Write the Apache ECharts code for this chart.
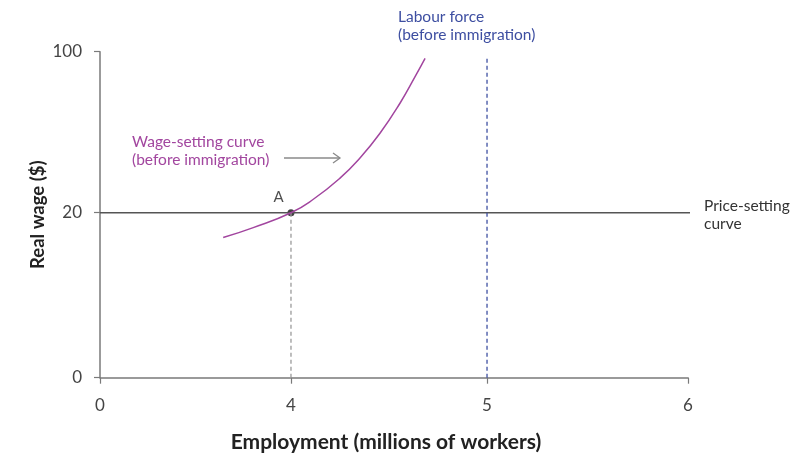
<!DOCTYPE html>
<html>
<head>
<meta charset="utf-8">
<script src="https://cdn.jsdelivr.net/npm/echarts@6/dist/echarts.min.js"></script>
<style>html,body{margin:0;padding:0;background:#fff}#c{width:810px;height:463px}</style>
</head>
<body>
<div id="c"></div>
<script>
// ---- data ----
const xTickValues = [0, 4, 5, 6];          // employment (millions)
const yTickValues = [0, 20, 100];          // real wage ($)
const wageX = [2.58, 3.21, 4.00, 4.114, 4.25, 4.352, 4.454, 4.556, 4.633, 4.684];
const wageY = [17.0, 18.2, 20.0, 26.7, 37.2, 47.2, 59.5, 74.4, 87.6, 96.7];
const priceSetting = 20;        // price-setting real wage
const pointA = [4, 20];
const labourForce = 5;          // labour force before immigration
const labourTop = 97.4;
const priceEnd = 6.02;

// ---- broken (piecewise) axis scales ----
const xScalePos = [0, 0.3248, 0.6582, 1];
const yScalePos = [0, 0.506, 1];
function piece(v, vals, pos) {
  let i = 0;
  while (i < vals.length - 2 && v > vals[i + 1]) i++;
  const t = (v - vals[i]) / (vals[i + 1] - vals[i]);
  return pos[i] + t * (pos[i + 1] - pos[i]);
}
const X = v => piece(v, xTickValues, xScalePos);
const Y = v => piece(v, yTickValues, yScalePos);
const P = (x, y) => [X(x), Y(y)];
function labelFor(val, vals, pos) {
  for (let i = 0; i < pos.length; i++) if (Math.abs(pos[i] - val) < 1e-6) return String(vals[i]);
  return '';
}

const FONT = 'Lato, "Open Sans", sans-serif';
const PURPLE = '#a2469f';
const BLUE = '#3d4ea1';
const AXIS = '#7a7a7a';

const chart = echarts.init(document.getElementById('c'), null, {renderer: 'canvas'});
chart.setOption({
  animation: false,
  grid: {left: 100, right: 122, top: 51.7, bottom: 85.3, containLabel: false},
  xAxis: {
    type: 'value', min: 0, max: 1,
    name: 'Employment (millions of workers)', nameLocation: 'middle', nameGap: 54,
    nameTextStyle: {fontFamily: FONT, fontWeight: 'bold', fontSize: 21, color: '#222', padding: [0, 16, 0, 0]},
    axisLine: {lineStyle: {color: AXIS, width: 1.5}},
    axisTick: {show: true, length: 6, customValues: xScalePos, lineStyle: {color: AXIS, width: 1.2}},
    axisLabel: {customValues: xScalePos, margin: 19, fontFamily: FONT, fontSize: 17, color: '#444',
      formatter: v => labelFor(v, xTickValues, xScalePos)},
    splitLine: {show: false}
  },
  yAxis: {
    type: 'value', min: 0, max: 1,
    name: 'Real wage ($)', nameLocation: 'middle', nameGap: 52, nameRotate: 90, nameMoveOverlap: false,
    nameTextStyle: {fontFamily: FONT, fontWeight: 'bold', fontSize: 18.5, color: '#222'},
    axisLine: {show: true, lineStyle: {color: AXIS, width: 1.5}},
    axisTick: {show: true, length: 6, customValues: yScalePos, lineStyle: {color: AXIS, width: 1.2}},
    axisLabel: {customValues: yScalePos, margin: 18, fontFamily: FONT, fontSize: 17, color: '#444',
      formatter: v => labelFor(v, yTickValues, yScalePos)},
    splitLine: {show: false}
  },
  series: [
    {type: 'line', name: 'Price-setting curve', clip: false, symbol: 'none',
      data: [P(0, priceSetting), P(priceEnd, priceSetting)],
      lineStyle: {color: '#555', width: 1.5}},
    {type: 'line', name: 'dropA', symbol: 'none',
      data: [P(pointA[0], 0), P(pointA[0], pointA[1])],
      lineStyle: {color: '#9a9a9a', width: 1.3, type: [4, 3]}},
    {type: 'line', name: 'Labour force', symbol: 'none',
      data: [P(labourForce, 0), P(labourForce, labourTop)],
      lineStyle: {color: BLUE, width: 1.3, type: [4, 3]}},
    {type: 'line', name: 'Wage-setting curve', symbol: 'none', smooth: 0.5,
      data: wageX.map((x, i) => P(x, wageY[i])),
      lineStyle: {color: PURPLE, width: 1.5}},
    {type: 'scatter', name: 'A', symbolSize: 7,
      data: [P(pointA[0], pointA[1])],
      itemStyle: {color: '#111'},
      label: {show: true, formatter: 'A', position: [-14, -20], fontFamily: FONT, fontSize: 15, color: '#222'}}
  ],
  graphic: [
    {type: 'text', left: 132, top: 133, style: {text: 'Wage-setting curve\n(before immigration)', fill: PURPLE, font: '15.5px ' + FONT, lineHeight: 18}},
    {type: 'text', left: 398, top: 8, style: {text: 'Labour force\n(before immigration)', fill: BLUE, font: '15.5px ' + FONT, lineHeight: 18}},
    {type: 'text', left: 704, top: 197, style: {text: 'Price-setting\ncurve', fill: '#333', font: '15.5px ' + FONT, lineHeight: 18}},
    {type: 'line', shape: {x1: 284, y1: 158, x2: 340, y2: 158}, style: {stroke: '#8a8a8a', lineWidth: 1.3}},
    {type: 'polyline', shape: {points: [[333, 153], [340, 158], [333, 163]]}, style: {stroke: '#8a8a8a', lineWidth: 1.3, fill: null}}
  ]
});
</script>
</body>
</html>
